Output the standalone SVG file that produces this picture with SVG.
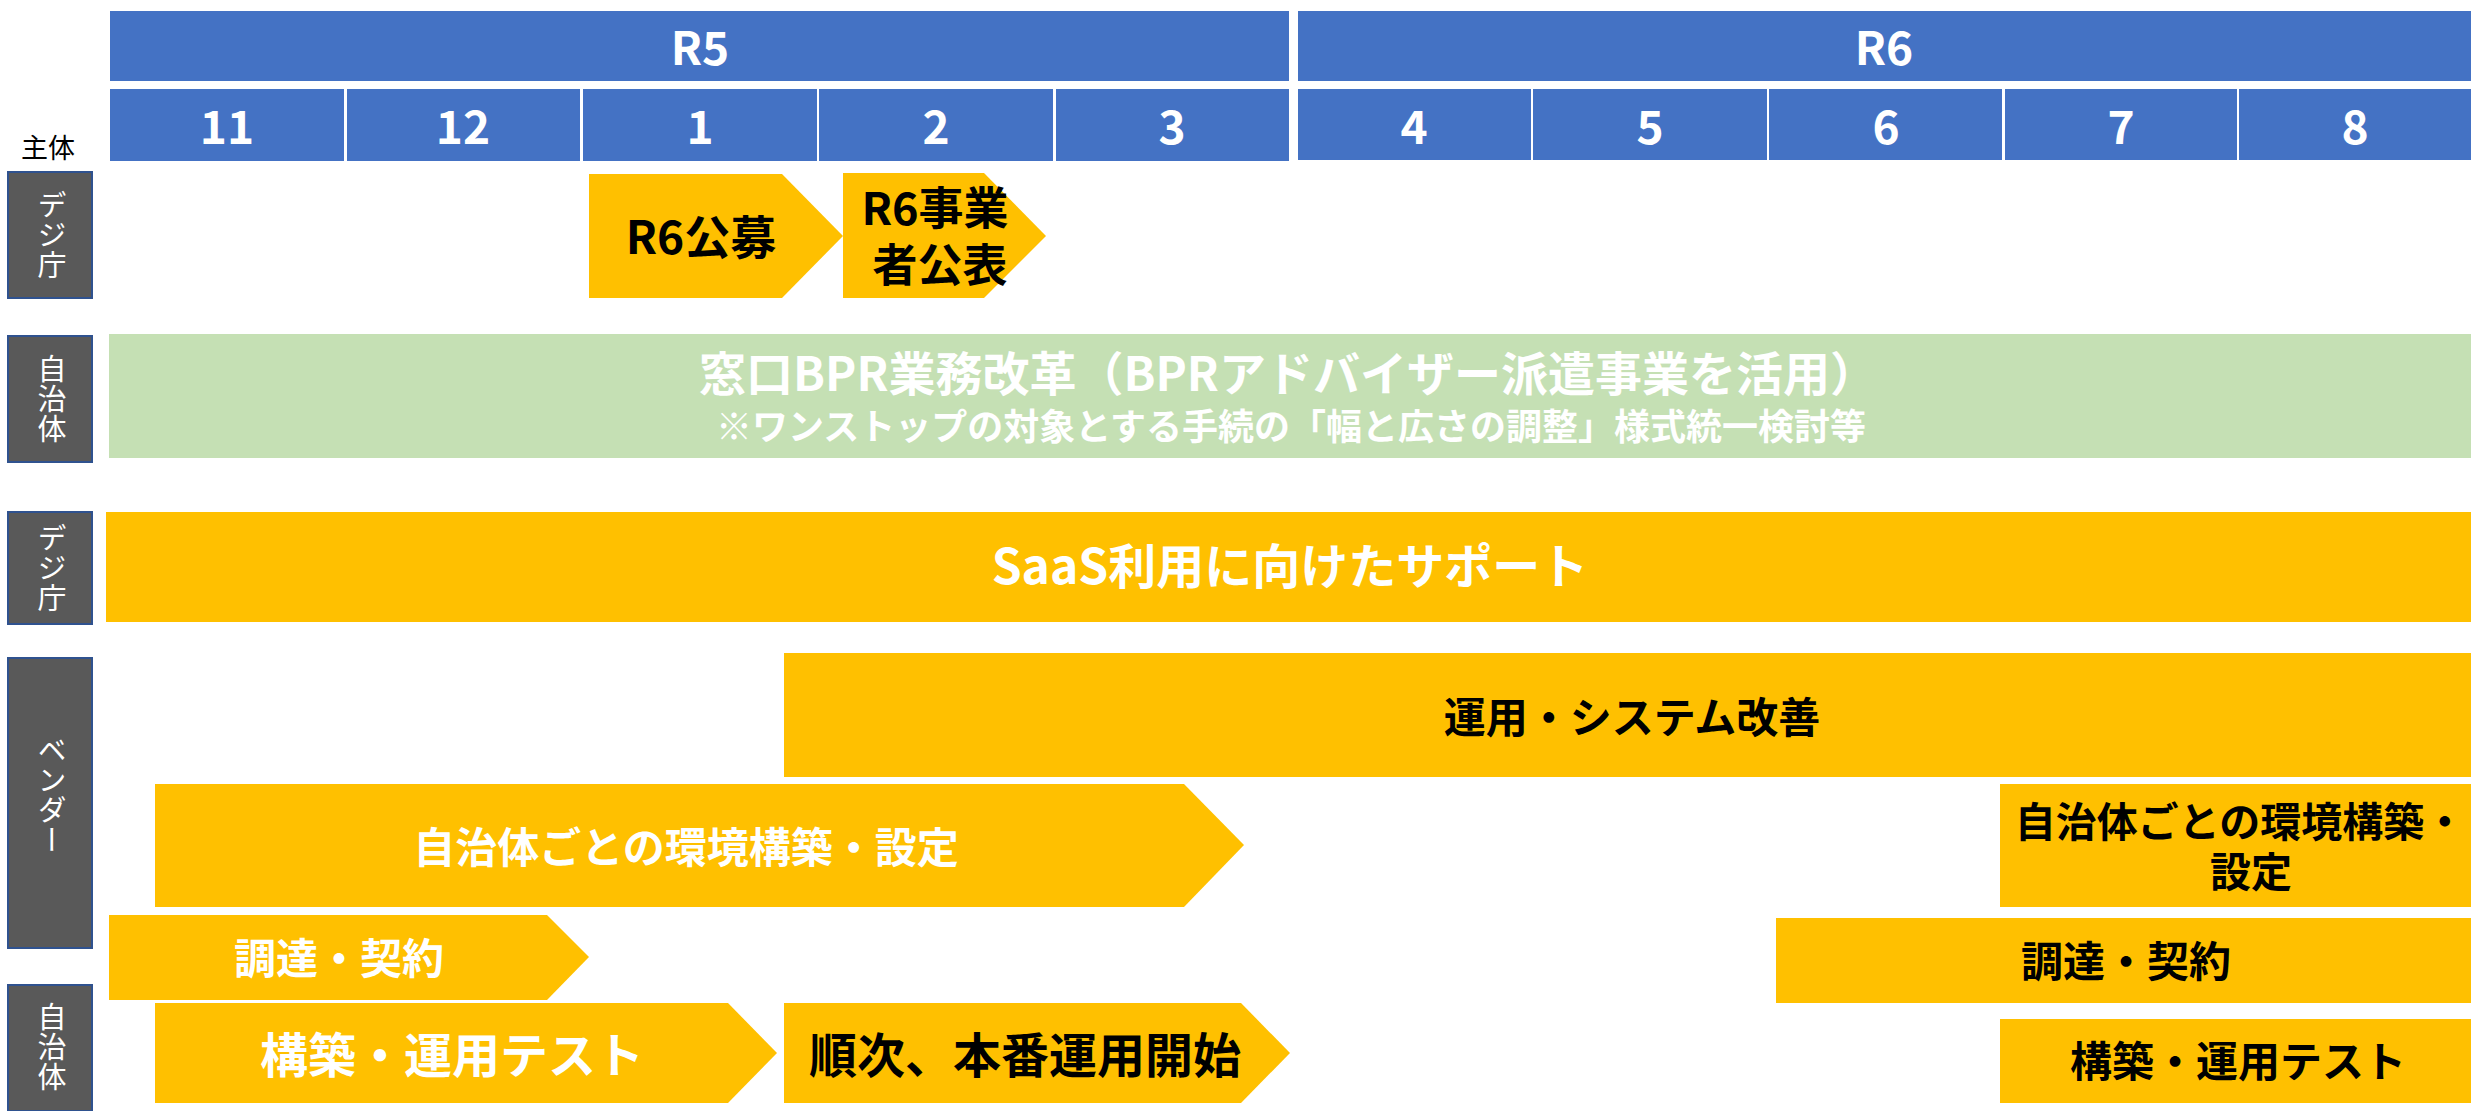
<svg xmlns="http://www.w3.org/2000/svg" width="2471" height="1111" viewBox="0 0 2471 1111">
<style>
text{font-family:"Noto Sans CJK JP","Noto Sans",sans-serif;font-weight:bold;text-anchor:middle;dominant-baseline:central}
.hdr{fill:#4472C4}
.w{fill:#FFFFFF}
.k{fill:#000000}
.n{font-weight:normal}
.bar{fill:#FFC000}
.lab{fill:#595959;stroke:#2F528F;stroke-width:2}
.vt{writing-mode:vertical-rl;fill:#FFFFFF;font-size:29px;font-weight:normal;letter-spacing:1px}
</style>
<rect width="2471" height="1111" fill="#FFFFFF"/>
<g id="header">
  <g id="r5"><rect class="hdr" x="110" y="11" width="1179" height="70"/><text class="w" x="700" y="45" font-size="46">R5</text></g>
  <g id="r6"><rect class="hdr" x="1298" y="11" width="1173" height="70"/><text class="w" x="1884" y="45" font-size="46">R6</text></g>
  <g id="m11"><rect class="hdr" x="110" y="89" width="234" height="72"/><text class="w" x="227" y="124" font-size="46">11</text></g>
  <g id="m12"><rect class="hdr" x="347" y="89" width="233" height="72"/><text class="w" x="463" y="124" font-size="46">12</text></g>
  <g id="m1"><rect class="hdr" x="583" y="89" width="234" height="72"/><text class="w" x="700" y="124" font-size="46">1</text></g>
  <g id="m2"><rect class="hdr" x="819" y="89" width="234" height="72"/><text class="w" x="936" y="124" font-size="46">2</text></g>
  <g id="m3"><rect class="hdr" x="1056" y="89" width="233" height="72"/><text class="w" x="1172" y="124" font-size="46">3</text></g>
  <g id="m4"><rect class="hdr" x="1298" y="89" width="233" height="71"/><text class="w" x="1414" y="124" font-size="46">4</text></g>
  <g id="m5"><rect class="hdr" x="1533" y="89" width="234" height="71"/><text class="w" x="1650" y="124" font-size="46">5</text></g>
  <g id="m6"><rect class="hdr" x="1769" y="89" width="233" height="71"/><text class="w" x="1886" y="124" font-size="46">6</text></g>
  <g id="m7"><rect class="hdr" x="2005" y="89" width="232" height="71"/><text class="w" x="2121" y="124" font-size="46">7</text></g>
  <g id="m8"><rect class="hdr" x="2239" y="89" width="232" height="71"/><text class="w" x="2355" y="124" font-size="46">8</text></g>
  <text class="k n" x="48" y="146" font-size="27">主体</text>
</g>
<g id="labels">
  <g id="lab-deji1"><rect class="lab" x="8" y="172" width="84" height="126"/><text class="vt" x="52" y="235">デジ庁</text></g>
  <g id="lab-jichi1"><rect class="lab" x="8" y="336" width="84" height="126"/><text class="vt" x="52" y="399">自治体</text></g>
  <g id="lab-deji2"><rect class="lab" x="8" y="512" width="84" height="112"/><text class="vt" x="52" y="568">デジ庁</text></g>
  <g id="lab-vendor"><rect class="lab" x="8" y="658" width="84" height="290"/><text class="vt" x="52" y="795">ベンダー</text></g>
  <g id="lab-jichi2"><rect class="lab" x="8" y="985" width="84" height="126"/><text class="vt" x="52" y="1047">自治体</text></g>
</g>
<g id="tasks">
  <g id="r6-koubo"><path class="bar" d="M589,174 H782 L843,236 L782,298 H589 Z"/><text class="k" x="701" y="234" font-size="46">R6公募</text></g>
  <g id="r6-jigyosha"><path class="bar" d="M843,173 H984 L1046,236 L984,298 H843 Z"/><text class="k" x="935" y="205" font-size="45">R6事業</text><text class="k" x="940" y="262" font-size="45">者公表</text></g>
  <g id="bpr"><rect x="109" y="334" width="2362" height="124" fill="#C5E0B4"/><text class="w" x="1288" y="370" font-size="47">窓口BPR業務改革（BPRアドバイザー派遣事業を活用）</text><text class="w" x="1291" y="424" font-size="36">※ワンストップの対象とする手続の「幅と広さの調整」様式統一検討等</text></g>
  <g id="saas"><rect class="bar" x="106" y="512" width="2365" height="110"/><text class="w" x="1290" y="563" font-size="48">SaaS利用に向けたサポート</text></g>
  <g id="unyo-kaizen"><rect class="bar" x="784" y="653" width="1687" height="124"/><text class="k" x="1632" y="714" font-size="42">運用・システム改善</text></g>
  <g id="kankyo-1"><path class="bar" d="M155,784 H1184 L1244,845 L1184,907 H155 Z"/><text class="w" x="686" y="844" font-size="42">自治体ごとの環境構築・設定</text></g>
  <g id="chotatsu-1"><path class="bar" d="M109,915 H547 L589,957 L547,1000 H109 Z"/><text class="w" x="339" y="955" font-size="42">調達・契約</text></g>
  <g id="kochiku-1"><path class="bar" d="M155,1003 H728 L777,1053 L728,1103 H155 Z"/><text class="w" x="452" y="1052" font-size="48">構築・運用テスト</text></g>
  <g id="junji"><path class="bar" d="M784,1003 H1241 L1290,1053 L1241,1103 H784 Z"/><text class="k" x="1025" y="1052" font-size="48">順次、本番運用開始</text></g>
  <g id="kankyo-2"><rect class="bar" x="2000" y="784" width="471" height="123"/><text class="k" x="2240" y="819" font-size="41">自治体ごとの環境構築・</text><text class="k" x="2251" y="869" font-size="41">設定</text></g>
  <g id="chotatsu-2"><rect class="bar" x="1776" y="918" width="695" height="85"/><text class="k" x="2126" y="958" font-size="42">調達・契約</text></g>
  <g id="kochiku-2"><rect class="bar" x="2000" y="1019" width="471" height="84"/><text class="k" x="2238" y="1058" font-size="42">構築・運用テスト</text></g>
</g>
</svg>
